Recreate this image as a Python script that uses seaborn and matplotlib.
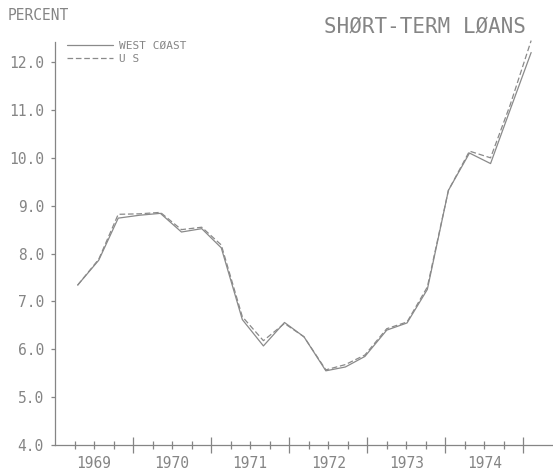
import numpy as np
import pandas as pd
import seaborn as sns
import matplotlib.pyplot as plt

years = [1969.29, 1969.56, 1969.81, 1970.08, 1970.35, 1970.62, 1970.88, 1971.13,
         1971.40, 1971.67, 1971.94, 1972.19, 1972.47, 1972.72, 1972.97, 1973.25,
         1973.51, 1973.77, 1974.04, 1974.31, 1974.58, 1974.83, 1975.10]
west_coast = [7.34, 7.86, 8.74, 8.80, 8.84, 8.45, 8.52, 8.12, 6.62, 6.07, 6.56, 6.26,
              5.55, 5.63, 5.85, 6.40, 6.55, 7.25, 9.32, 10.10, 9.88, 11.00, 12.20]
us = [7.34, 7.88, 8.82, 8.83, 8.86, 8.50, 8.55, 8.18, 6.68, 6.18, 6.54, 6.26,
      5.57, 5.68, 5.88, 6.43, 6.57, 7.30, 9.32, 10.14, 10.00, 11.10, 12.45]

series_names = ['WEST CØAST', 'U S']
year_labels = ['1969', '1970', '1971', '1972', '1973', '1974']
y_ticks = [4.0, 5.0, 6.0, 7.0, 8.0, 9.0, 10.0, 11.0, 12.0]

df = pd.DataFrame({
    'year': years * 2,
    'rate': west_coast + us,
    'series': [series_names[0]] * len(years) + [series_names[1]] * len(years),
})

sns.set_style('white')
plt.rcParams['font.family'] = ['DejaVu Sans Mono', 'DejaVu Sans']

ink = '#858585'
line_col = '#8a8a8a'

fig = plt.figure(figsize=(5.53, 4.73), dpi=100)
ax = fig.add_axes([55 / 553, 28 / 473, 498 / 553, (445 - 42) / 473])

sns.lineplot(data=df, x='year', y='rate', hue='series', style='series',
             palette=[line_col, line_col],
             dashes={series_names[0]: '', series_names[1]: (4.5, 2.2)},
             linewidth=0.9, ax=ax, clip_on=False)

ax.set_xlim(1969.0, 1975.38)
ax.set_ylim(4.0, 12.42)
ax.set_xlabel('')
ax.set_ylabel('')

# year boundaries get the long ticks, quarters short ones, labels mid-year
bounds = [1970.0, 1971.0, 1972.0, 1973.0, 1974.0, 1975.0]
quarters = []
qlabels = []
for i, yl in enumerate(year_labels):
    base = 1969 + i
    for q, lab in [(0.25, ''), (0.5, yl), (0.75, '')]:
        quarters.append(base + q)
        qlabels.append(lab)
ax.set_xticks(bounds)
ax.set_xticklabels([''] * len(bounds))
ax.set_xticks(quarters, minor=True)
ax.set_xticklabels(qlabels, minor=True)
ax.tick_params(axis='x', which='major', direction='inout', length=11,
               width=0.9, color=ink, bottom=True)
ax.tick_params(axis='x', which='minor', direction='inout', length=6,
               width=0.9, color=ink, bottom=True, labelsize=10.5,
               labelcolor=ink, pad=5)

ax.set_yticks(y_ticks)
ax.set_yticklabels([f'{v:.1f}' for v in y_ticks])
ax.tick_params(axis='y', direction='out', length=3, width=0.9, color=ink,
               left=True, labelsize=10.5, labelcolor=ink, pad=5)

sns.despine(ax=ax, top=True, right=True)
for side in ['left', 'bottom']:
    ax.spines[side].set_color(ink)
    ax.spines[side].set_linewidth(0.9)

leg = ax.legend(loc='upper left', bbox_to_anchor=(0.01, 1.02), frameon=False,
                fontsize=8, handlelength=4.2, handletextpad=0.5,
                labelspacing=0.28, borderaxespad=0.2)
for t in leg.get_texts():
    t.set_color(ink)

fig.text(8 / 553, 1 - 15 / 473, 'PERCENT', ha='left', va='center',
         fontsize=10.5, color=ink)
fig.text(526 / 553, 1 - 27 / 473, 'SHØRT-TERM LØANS', ha='right', va='center',
         fontsize=15, color=ink)

fig.savefig('out.png', dpi=100)
